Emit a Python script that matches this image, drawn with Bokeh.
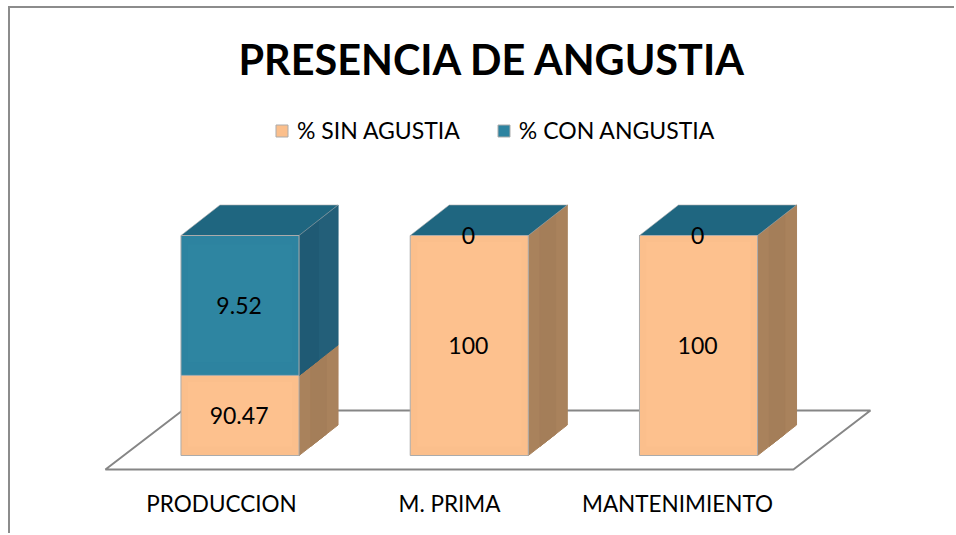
from bokeh.plotting import figure
from bokeh.embed import file_html
from bokeh.resources import INLINE
from bokeh.models import Range1d, LinearAxis, FixedTicker, Legend, LegendItem, Title
from bokeh.core.properties import value

FONT = "Lato"
categories = ["PRODUCCION", "M. PRIMA", "MANTENIMIENTO"]
series_names = ["% SIN AGUSTIA", "% CON ANGUSTIA"]
# drawn heights (out of 100), and the printed labels
sin_heights = [36.4, 100, 100]
con_heights = [63.6, 0, 0]
sin_labels = ["90.47", "100", "100"]
con_labels = ["9.52", "0", "0"]
title_text = "PRESENCIA DE ANGUSTIA"

# projection of the 3D box, in data units
W = 0.515          # front width
DX = 39 / 229.25   # depth in x
DV = 30.5 / 2.2    # depth in value
positions = list(range(len(categories)))

TAN, TAN_IN, TAN_S, TAN_S2 = "#FBBF8C", "#FDC18E", "#A9825C", "#A47E59"
TEAL, TEAL_IN, TEAL_S, TEAL_S2, TEAL_T = "#2D83A0", "#2E85A1", "#235F79", "#1F5A74", "#1F6680"
EDGE = "#ABABAB"

p = figure(width=946, height=527, output_backend="svg", toolbar_location=None,
           x_range=Range1d((10 - 239.5) / 229.25, (956 - 239.5) / 229.25),
           y_range=Range1d((455 - 480) / 2.2, (455 - 83) / 2.2),
           x_axis_location=None, y_axis_location=None,
           min_border_left=0, min_border_right=0, min_border_top=75, min_border_bottom=55,
           outline_line_color=None, background_fill_color="white", border_fill_color="white",
           margin=(8, 0, 0, 10), styles={"box-shadow": "-2px -2px 0 0 #8C8C8C"})
p.grid.visible = False

p.title = Title(text=title_text, align="left", offset=228, text_font=FONT, text_font_size="41.4px",
                text_font_style="bold", text_color="#000000", standoff=0)

# floor
fl, fr = -0.587, 2.414
fv, fdx, fdv = -6.36, 77 / 229.25, 59 / 2.2
p.patch([fl, fr, fr + fdx, fl + fdx], [fv, fv, fv + fdv, fv + fdv],
        fill_color=None, line_color="#868686", line_width=2)

def side(vals0, vals1, c, ce, frac0=0.0, frac1=1.0):
    xs, ys = [], []
    for x, a, b in zip(positions, vals0, vals1):
        if b <= a:
            continue
        r = x + W / 2
        xs.append([r + DX * frac0, r + DX * frac1, r + DX * frac1, r + DX * frac0])
        ys.append([a + DV * frac0, a + DV * frac1, b + DV * frac1, b + DV * frac0])
    p.patches(xs, ys, fill_color=c, line_color=ce, line_width=1)

tops = [a + b for a, b in zip(sin_heights, con_heights)]
zeros = [0 for _ in positions]
side(zeros, sin_heights, TAN_S, TAN_S)
side(zeros, sin_heights, TAN_S2, TAN_S2, 0.3, 0.7)
side(sin_heights, tops, TEAL_S, TEAL_S)
side(sin_heights, tops, TEAL_S2, TEAL_S2, 0.0, 0.5)

# top faces
p.patches([[x - W / 2, x + W / 2, x + W / 2 + DX, x - W / 2 + DX] for x in positions],
          [[t, t, t + DV, t + DV] for t in tops],
          fill_color=TEAL_T, line_color=EDGE, line_width=0.6)

# front faces
left = [x - W / 2 for x in positions]
right = [x + W / 2 for x in positions]
r_sin = p.quad(left=left, right=right, bottom=zeros, top=sin_heights,
               fill_color=TAN, line_color=EDGE, line_width=1)
r_con = p.quad(left=left, right=right, bottom=sin_heights, top=tops,
               fill_color=TEAL, line_color=EDGE, line_width=1)
# soft inner panel of the front faces
ins = 0.03
p.quad(left=[x + ins for x in left], right=[x - ins for x in right],
       bottom=[4 for _ in positions], top=[h - 3 for h in sin_heights],
       fill_color=TAN_IN, line_color=None)
idx = [i for i, h in enumerate(con_heights) if h > 0]
p.quad(left=[left[i] + ins for i in idx], right=[right[i] - ins for i in idx],
       bottom=[sin_heights[i] + 6 for i in idx], top=[tops[i] - 4 for i in idx],
       fill_color=TEAL_IN, line_color=None)

# value labels
lab_x = [x - 0.004 for x in positions]
p.text(lab_x, [h / 2 for h in sin_heights], text=sin_labels, text_font=value(FONT),
       text_font_size="23px", text_color="#000000", text_align="center", text_baseline="middle")
p.text(lab_x, [s + c / 2 for s, c in zip(sin_heights, con_heights)], text=con_labels,
       text_font=value(FONT), text_font_size="23px", text_color="#000000",
       text_align="center", text_baseline="middle")

# category axis
p.extra_x_ranges["cat"] = Range1d((10 - 221) / 228, (956 - 221) / 228)
ax = LinearAxis(x_range_name="cat", ticker=FixedTicker(ticks=positions),
                major_label_overrides={i: c for i, c in zip(positions, categories)},
                axis_line_color=None, major_tick_line_color=None, minor_tick_line_color=None,
                major_label_text_font=FONT, major_label_text_font_size="22.5px",
                major_label_text_color="#000000", major_label_standoff=3)
p.add_layout(ax, "below")

legend = Legend(items=[LegendItem(label=series_names[0], renderers=[r_sin]),
                       LegendItem(label=series_names[1], renderers=[r_con])],
                orientation="horizontal", location=(264, 336),
                label_text_font=FONT, label_text_font_size="23px", label_text_color="#000000",
                glyph_width=15, glyph_height=15, label_standoff=8, spacing=36,
                margin=0, padding=0, border_line_color=None, background_fill_alpha=0)
p.add_layout(legend, "center")

open("out.html", "w").write(file_html(p, INLINE))
